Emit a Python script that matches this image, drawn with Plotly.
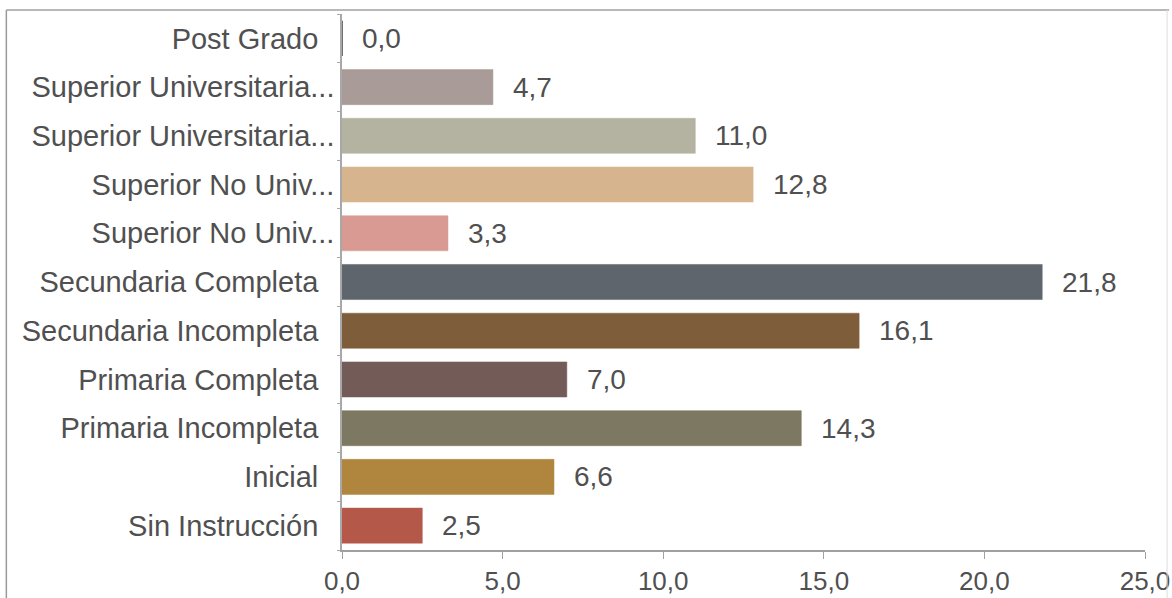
import plotly.graph_objects as go

# Education level distribution (%), listed top to bottom
categories = [
    "Post Grado",
    "Superior Universitaria Completa",
    "Superior Universitaria Incompleta",
    "Superior No Universitaria Completa",
    "Superior No Universitaria Incompleta",
    "Secundaria Completa",
    "Secundaria Incompleta",
    "Primaria Completa",
    "Primaria Incompleta",
    "Inicial",
    "Sin Instrucción",
]
tick_labels = [
    "Post Grado",
    "Superior Universitaria...",
    "Superior Universitaria...",
    "Superior No Univ...",
    "Superior No Univ...",
    "Secundaria Completa",
    "Secundaria Incompleta",
    "Primaria Completa",
    "Primaria Incompleta",
    "Inicial",
    "Sin Instrucción",
]
values = [0.0, 4.7, 11.0, 12.8, 3.3, 21.8, 16.1, 7.0, 14.3, 6.6, 2.5]
colors = [
    "#6f6f6f", "#a89b98", "#b4b2a0", "#d6b58e", "#d89a92", "#5f656c",
    "#7e5d3b", "#735c58", "#7d7862", "#b0863f", "#b4594a",
]
x_ticks = [0, 5, 10, 15, 20, 25]

FONT = "Liberation Sans, Arial, sans-serif"
TEXT = "#505050"

# pad full-length labels so truncated ones reach further toward the axis
display_labels = [t if t.endswith("...") else t + "\u00a0\u00a0" for t in tick_labels]

fig = go.Figure()
fig.add_trace(go.Bar(
    x=values,
    y=categories,
    orientation="h",
    marker=dict(color=colors, line=dict(color=colors, width=[2] + [0.5] * (len(values) - 1))),
    width=0.72,
    hoverinfo="x+y",
))

for cat, v in zip(categories, values):
    fig.add_annotation(
        x=v, y=cat, text=f"{v:.1f}".replace(".", ","),
        xanchor="left", yanchor="middle", xshift=18, showarrow=False,
        font=dict(family=FONT, size=28, color=TEXT),
    )

# outer frame around the chart
fig.add_shape(type="line", xref="paper", yref="paper", x0=-0.418, x1=1.03, y0=1.0075, y1=1.0075,
              line=dict(color="#b8b8b8", width=2))
fig.add_shape(type="line", xref="paper", yref="paper", x0=-0.418, x1=-0.418, y0=1.0075, y1=-0.2,
              line=dict(color="#9a9a9a", width=1.5))
fig.add_shape(type="line", xref="paper", yref="paper", x0=1.0275, x1=1.0275, y0=1.0075, y1=-0.2,
              line=dict(color="#dddddd", width=1))

fig.update_layout(
    width=1172, height=598,
    margin=dict(l=342, r=27, t=14, b=48, autoexpand=False),
    paper_bgcolor="white", plot_bgcolor="white",
    separators=",.",
    showlegend=False,
    font=dict(family=FONT, size=29, color=TEXT),
    xaxis=dict(
        range=[0, 25], tickvals=x_ticks, tickformat=".1f",
        showgrid=False, zeroline=False, automargin=False,
        showline=True, linecolor="#a0a0a0", linewidth=1.5,
        ticks="outside", ticklen=7, tickcolor="#a0a0a0",
        ticklabelstandoff=0, ticklabeloverflow="allow",
        tickfont=dict(family=FONT, size=26, color=TEXT),
    ),
    yaxis=dict(
        autorange="reversed", tickmode="array", tickvals=categories, ticktext=display_labels,
        showgrid=False, zeroline=False, automargin=False,
        showline=True, linecolor="#a8a8a8", linewidth=1.5,
        ticks="outside", tickson="boundaries", ticklen=3, tickcolor="#a8a8a8",
        ticklabelstandoff=0,
        tickfont=dict(family=FONT, size=29, color=TEXT),
    ),
)

fig.write_html("out.html")
